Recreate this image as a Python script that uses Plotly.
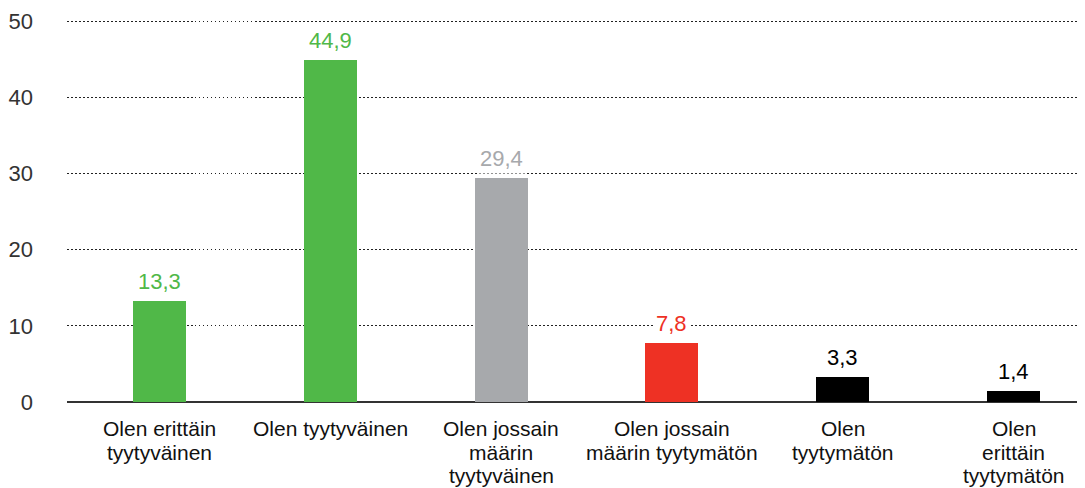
import plotly.graph_objects as go

categories = [
    "Olen erittäin<br>tyytyväinen",
    "Olen tyytyväinen",
    "Olen jossain<br>määrin<br>tyytyväinen",
    "Olen jossain<br>määrin tyytymätön",
    "Olen<br>tyytymätön",
    "Olen<br>erittäin<br>tyytymätön",
]
values = [13.3, 44.9, 29.4, 7.8, 3.3, 1.4]
value_labels = ["13,3", "44,9", "29,4", "7,8", "3,3", "1,4"]
bar_colors = ["#50b848", "#50b848", "#a7a9ac", "#ee3124", "#000000", "#000000"]
label_colors = ["#50b848", "#50b848", "#a7a9ac", "#ee3124", "#000000", "#000000"]
y_ticks = [0, 10, 20, 30, 40, 50]

FONT = "Liberation Sans, Arial, Helvetica, sans-serif"
xs = list(range(len(categories)))

fig = go.Figure()
fig.add_trace(go.Bar(
    x=xs, y=values, width=0.31,
    marker=dict(color=bar_colors, line=dict(width=0)),
    hoverinfo="skip",
))

annotations = []
for i, (v, t, c) in enumerate(zip(values, value_labels, label_colors)):
    annotations.append(dict(
        x=i, y=v, xref="x", yref="y", text=t, showarrow=False,
        yanchor="bottom", yshift=4, bgcolor="white", borderpad=2,
        font=dict(family=FONT, size=22, color=c),
    ))
for i, cat in enumerate(categories):
    for j, line in enumerate(cat.split("<br>")):
        annotations.append(dict(
            x=i, y=0, xref="x", yref="paper", text=line, showarrow=False,
            yanchor="middle", yshift=-(26.5 + 23.5 * j),
            font=dict(family=FONT, size=21, color="#111111"),
        ))

# page body has an 8px margin: figure is 8px smaller and offsets compensated
fig.update_layout(
    width=1077, height=480,
    margin=dict(l=59, r=0, t=11, b=86, autoexpand=False),
    paper_bgcolor="white", plot_bgcolor="white",
    showlegend=False, bargap=0,
    font=dict(family=FONT, size=21, color="#333333"),
    annotations=annotations,
    xaxis=dict(
        range=[-0.5416, 5.418], showticklabels=False, showgrid=False,
        zeroline=False, showline=False, ticks="", fixedrange=True,
        automargin=False,
    ),
    yaxis=dict(
        range=[0, 50.3], tickvals=y_ticks, ticktext=[str(t) for t in y_ticks],
        showgrid=True, gridcolor="#222222", gridwidth=1, griddash="1.5px,2.5px",
        zeroline=True, zerolinecolor="#333333", zerolinewidth=1.6,
        showline=False, ticks="", ticklabelstandoff=33,
        tickfont=dict(family=FONT, size=22, color="#333333"),
        fixedrange=True, automargin=False,
    ),
)

fig.write_html("out.html")
